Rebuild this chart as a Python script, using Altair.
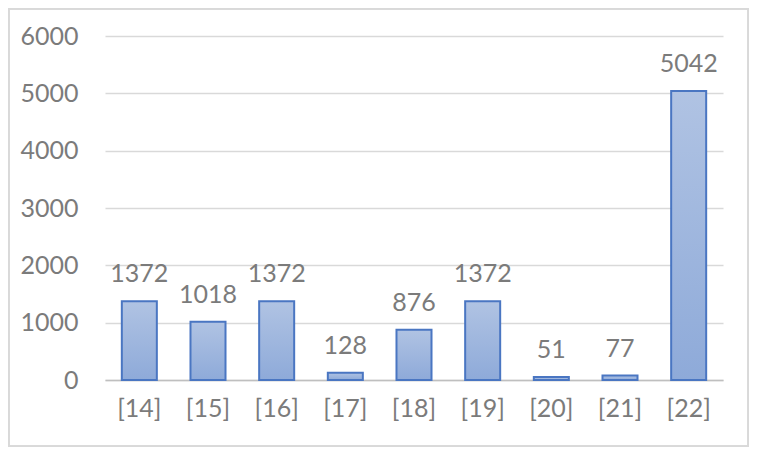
import altair as alt
import pandas as pd

categories = ["[14]", "[15]", "[16]", "[17]", "[18]", "[19]", "[20]", "[21]", "[22]"]
values = [1372, 1018, 1372, 128, 876, 1372, 51, 77, 5042]
y_ticks = [0, 1000, 2000, 3000, 4000, 5000, 6000]

df = pd.DataFrame({"cat": categories, "val": values})

FONT = "Lato"
TXT = "#7b7b7b"
W, H = 618, 344

x_enc = alt.X("cat:N", sort=categories, title=None,
              scale=alt.Scale(paddingInner=0.49, paddingOuter=0.245),
              axis=alt.Axis(labelAngle=0, labelFont=FONT, labelFontSize=25,
                            labelColor=TXT, ticks=False, domain=True,
                            domainColor="#bfbfbf", domainWidth=1.5,
                            labelPadding=16, labelBaseline="top", grid=False))
y_enc = alt.Y("val:Q", title=None,
              scale=alt.Scale(domain=[0, 6000], nice=False),
              axis=alt.Axis(values=y_ticks, format="d", labelFont=FONT, labelFontSize=25,
                            labelColor=TXT, ticks=False, domain=False,
                            labelPadding=27, gridColor="#d9d9d9", gridWidth=1.5))

grad = alt.Gradient(gradient="linear", x1=0, y1=0, x2=0, y2=1,
                    stops=[alt.GradientStop(offset=0, color="#b0c3e3"),
                           alt.GradientStop(offset=1, color="#8eaad9")])

bars = alt.Chart(df).mark_bar(fill=grad, stroke="#4a76c2", strokeWidth=2).encode(
    x=x_enc, y=y_enc)

labels = alt.Chart(df).mark_text(font=FONT, fontSize=25, color=TXT,
                                 baseline="bottom", dy=-14).encode(
    x=x_enc, y=y_enc, text="val:Q")

border = alt.Chart(df).mark_rect(fill=None, stroke="#d9d9d9", strokeWidth=1.5,
                                 clip=False).encode(
    x=alt.value(-96.25), x2=alt.value(W + 25.25),
    y=alt.value(-27.25), y2=alt.value(H + 66.25))

chart = alt.layer(border, bars, labels).properties(
    width=W, height=H,
    background="white",
    autosize=alt.AutoSizeParams(type="none"),
    padding={"left": 97, "top": 28, "right": 26, "bottom": 67},
).configure_view(strokeWidth=0, stroke="transparent")

chart.save("out.html", embed_options={"renderer": "svg", "actions": False})
